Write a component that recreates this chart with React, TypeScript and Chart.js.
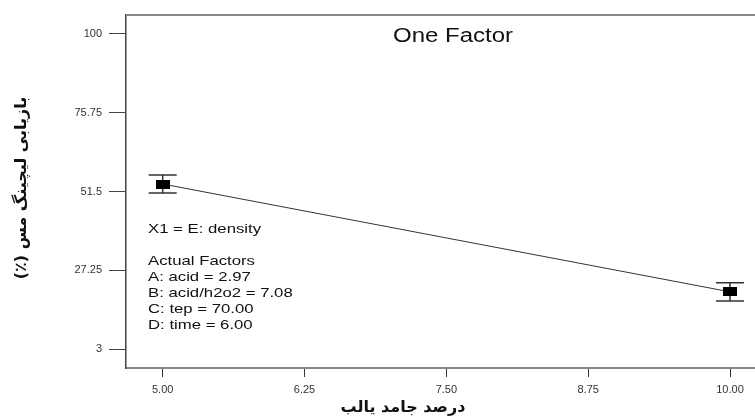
import React, { useEffect, useRef } from 'react';
import { Chart, registerables } from 'chart.js';

Chart.register(...registerables);

// ---- data ----
const xValues = [5, 10];
const yValues = [53.8, 20.6];
const errHalf = [2.8, 2.8];
const xTicks = [5, 6.25, 7.5, 8.75, 10];
const xTickLabels = ['5.00', '6.25', '7.50', '8.75', '10.00'];
const yTicks = [3, 27.25, 51.5, 75.75, 100];
const yTickLabels = ['3', '27.25', '51.5', '75.75', '100'];
const titleText = 'One Factor';
const xTitle = 'درصد جامد یالب';
const yTitle = 'بازیابی لیچینگ مس (٪)';
const noteLines = [
  'X1 = E: density',
  '',
  'Actual Factors',
  'A: acid = 2.97',
  'B: acid/h2o2 = 7.08',
  'C: tep = 70.00',
  'D: time = 6.00',
];

const LATIN = 'Arial, "Liberation Sans", sans-serif';
const PERSIAN = '"DejaVu Sans", sans-serif';

export default function App() {
  const ref = useRef<HTMLCanvasElement | null>(null);

  useEffect(() => {
    const canvas = ref.current;
    if (!canvas) return;

    const marker = document.createElement('canvas');
    marker.width = 14;
    marker.height = 9;
    const mctx = marker.getContext('2d')!;
    mctx.fillStyle = '#000';
    mctx.fillRect(0, 0, 14, 9);

    const stretchText = (ctx: CanvasRenderingContext2D, text: string, x: number, y: number, sx: number, align: CanvasTextAlign) => {
      ctx.save();
      ctx.translate(x, y);
      ctx.scale(sx, 1);
      ctx.textAlign = align;
      ctx.fillText(text, 0, 0);
      ctx.restore();
    };

    const decor = {
      id: 'decor',
      beforeDatasetsDraw(chart: any) {
        const { ctx, scales } = chart;
        const x = scales.x;
        const y = scales.y;
        ctx.save();
        ctx.strokeStyle = '#333';
        ctx.lineWidth = 1.5;
        xValues.forEach((xv, i) => {
          const px = x.getPixelForValue(xv);
          const top = y.getPixelForValue(yValues[i] + errHalf[i]);
          const bot = y.getPixelForValue(yValues[i] - errHalf[i]);
          ctx.beginPath();
          ctx.moveTo(px, top);
          ctx.lineTo(px, bot);
          ctx.moveTo(px - 14, top);
          ctx.lineTo(px + 14, top);
          ctx.moveTo(px - 14, bot);
          ctx.lineTo(px + 14, bot);
          ctx.stroke();
        });
        ctx.restore();
      },
      afterDraw(chart: any) {
        const { ctx, chartArea } = chart;
        ctx.save();
        // top frame line
        ctx.strokeStyle = '#888';
        ctx.lineWidth = 2;
        ctx.beginPath();
        ctx.moveTo(chartArea.left, chartArea.top);
        ctx.lineTo(chart.width, chartArea.top);
        ctx.stroke();

        // title
        ctx.fillStyle = '#111';
        ctx.textBaseline = 'middle';
        ctx.font = `20px ${LATIN}`;
        stretchText(ctx, titleText, 453, 36, 1.2, 'center');

        // notes
        ctx.font = `13.4px ${LATIN}`;
        let yy = 229.5;
        noteLines.forEach((l) => {
          if (l) stretchText(ctx, l, 148, yy, 1.25, 'left');
          yy += 16;
        });

        // axis titles
        ctx.fillStyle = '#111';
        ctx.font = `bold 16px ${PERSIAN}`;
        ctx.direction = 'rtl';
        ctx.textAlign = 'center';
        ctx.fillText(xTitle, 403, 408);
        ctx.save();
        ctx.translate(22, 188);
        ctx.rotate(-Math.PI / 2);
        ctx.fillText(yTitle, 0, 0);
        ctx.restore();
        ctx.restore();
      },
    };

    const chart = new Chart(canvas, {
      type: 'line',
      data: {
        datasets: [
          {
            data: xValues.map((xv, i) => ({ x: xv, y: yValues[i] })),
            borderColor: '#333',
            borderWidth: 1,
            pointStyle: marker as any,
            pointRadius: 6,
            tension: 0,
            fill: false,
          },
        ],
      },
      options: {
        animation: false,
        responsive: false,
        devicePixelRatio: 1,
        layout: { autoPadding: false, padding: { top: 15, left: 0, right: 0, bottom: 0 } },
        plugins: {
          legend: { display: false },
          tooltip: { enabled: false },
          title: { display: false },
        },
        scales: {
          x: {
            type: 'linear',
            min: 4.6765,
            max: 10.2203,
            afterBuildTicks: (s: any) => {
              s.ticks = xTicks.map((v) => ({ value: v }));
            },
            afterFit: (s: any) => {
              s.height = 51;
              s.paddingLeft = 0;
              s.paddingRight = 0;
            },
            ticks: {
              callback: (_v: any, i: number) => xTickLabels[i],
              font: { family: LATIN, size: 11 },
              color: '#333',
              padding: 6,
              maxRotation: 0,
              autoSkip: false,
            },
            grid: {
              drawOnChartArea: false,
              drawTicks: true,
              tickLength: 9,
              color: '#333',
              lineWidth: 1,
            },
            border: { display: true, color: '#888', width: 2 },
          },
          y: {
            type: 'linear',
            min: -2.85,
            max: 105.85,
            afterBuildTicks: (s: any) => {
              s.ticks = yTicks.map((v) => ({ value: v }));
            },
            afterFit: (s: any) => {
              s.width = 126;
              s.paddingTop = 0;
              s.paddingBottom = 0;
            },
            ticks: {
              callback: (_v: any, i: number) => yTickLabels[i],
              font: { family: LATIN, size: 11 },
              color: '#333',
              padding: 7,
              autoSkip: false,
            },
            grid: {
              drawOnChartArea: false,
              drawTicks: true,
              tickLength: 17,
              color: '#444',
              lineWidth: 1,
            },
            border: { display: true, color: '#444', width: 1.5 },
          },
        },
      },
      plugins: [decor],
    });

    return () => chart.destroy();
  }, []);

  return (
    <div style={{ position: 'fixed', left: 0, top: 0, width: 755, height: 419, background: '#fff' }}>
      <canvas ref={ref} width={755} height={419} style={{ display: 'block' }} />
    </div>
  );
}
